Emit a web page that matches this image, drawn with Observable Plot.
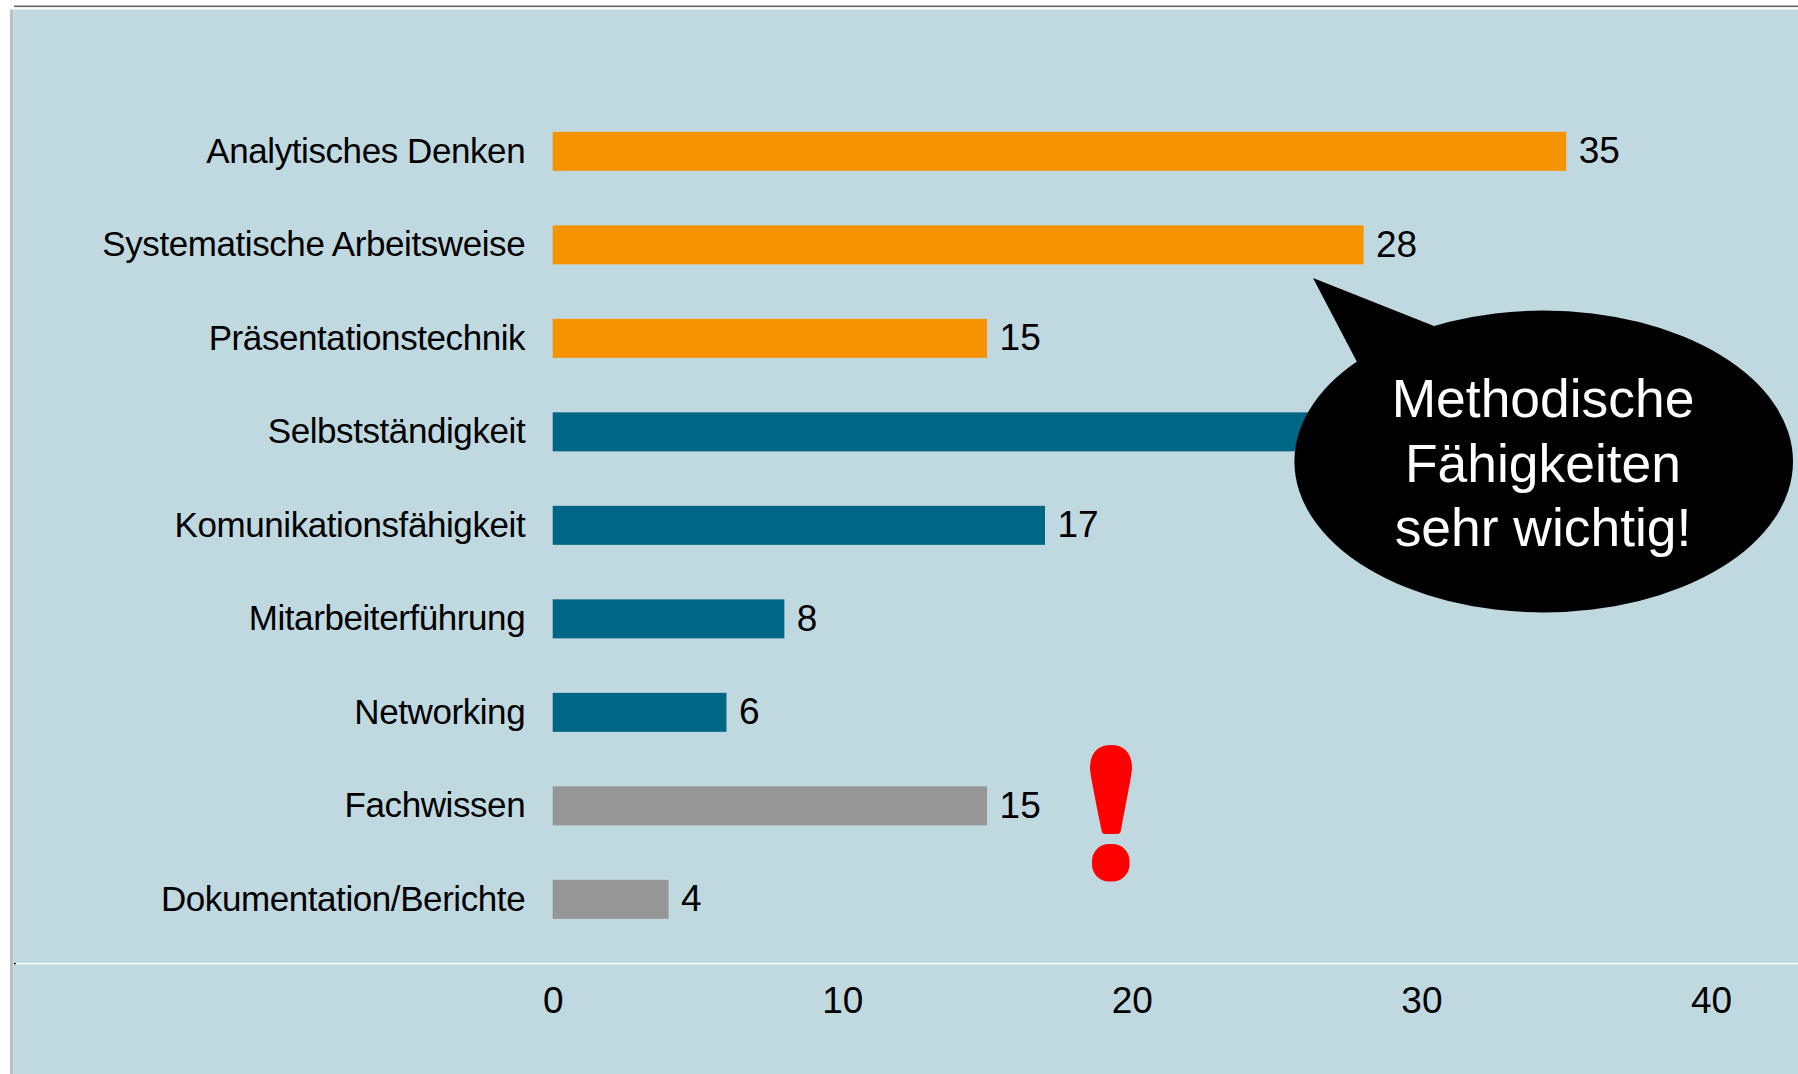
<!DOCTYPE html>
<html lang="de">
<head>
<meta charset="utf-8">
<script src="https://cdn.jsdelivr.net/npm/d3@7"></script>
<script src="https://cdn.jsdelivr.net/npm/@observablehq/plot@0.6"></script>
<style>
html,body{margin:0;padding:0;background:#fff;overflow:hidden}
svg{display:block}
g[aria-label="y-axis tick label"] text{letter-spacing:-0.42px}
</style>
</head>
<body>
<script>
const categories = ["Analytisches Denken","Systematische Arbeitsweise","Präsentationstechnik","Selbstständigkeit","Komunikationsfähigkeit","Mitarbeiterführung","Networking","Fachwissen","Dokumentation/Berichte"];
const values = [35,28,15,27,17,8,6,15,4];
const groups = ["Methodisch","Methodisch","Methodisch","Sozial","Sozial","Sozial","Sozial","Fach","Fach"];
const groupNames = ["Methodisch","Sozial","Fach"];
const groupColors = ["#f59300","#006685","#969696"];
const xTicks = [0,10,20,30,40];
const calloutLines = ["Methodische","Fähigkeiten","sehr wichtig!"];

const rows = categories.map((c,i)=>({category:c,value:values[i],group:groups[i]}));
const FONT = '"Liberation Sans", Arial, sans-serif';
const NS = "http://www.w3.org/2000/svg";
const el = (n,a,parent)=>{const e=document.createElementNS(NS,n);for(const k in a)e.setAttribute(k,a[k]);if(parent)parent.appendChild(e);return e;};

function panel(index,scales,channels,dim){
  const g=el("g",{});
  el("rect",{x:10,y:9.5,width:3.5,height:dim.height-9.5,fill:"#bfbfbf"},g);
  el("rect",{x:13.5,y:9.5,width:dim.width-13.5,height:dim.height-9.5,fill:"#c0d8e0"},g);
  el("rect",{x:14,y:5.5,width:dim.width-14,height:1.6,fill:"#666"},g);
  el("rect",{x:14,y:963,width:dim.width-14,height:1.2,fill:"#fff"},g);
  el("rect",{x:14,y:963,width:2,height:1.2,fill:"#000"},g);
  return g;
}
function callout(){
  const g=el("g",{});
  el("ellipse",{cx:1543.7,cy:461.5,rx:249.3,ry:151,fill:"#000"},g);
  el("path",{d:"M1313,278L1434,326L1357,362Z",fill:"#000"},g);
  calloutLines.forEach((t,i)=>{
    const e=el("text",{x:1543,y:417+i*64.6,"text-anchor":"middle",fill:"#fff","font-size":53.4,"font-family":FONT},g);
    e.textContent=t;
  });
  el("path",{d:"M1090,768C1090,752 1099,745 1111,745C1123,745 1132,752 1132,768C1132,772 1130,783 1121,830C1120.5,833 1119,834 1117,834L1105,834C1103,834 1102,833 1101.500,830C1092,783 1090,772 1090,768Z",fill:"#f00"},g);
  el("rect",{x:1092,y:844,width:37.500,height:37.500,rx:17,ry:17,fill:"#f00"},g);
  return g;
}

const chart = Plot.plot({
  width:1798,height:1074,
  marginLeft:552.7,marginRight:87,marginTop:104.6,marginBottom:111,
  style:{background:"transparent",fontFamily:FONT,overflow:"visible"},
  x:{domain:[0,40],range:[552.7,1711],label:null},
  y:{domain:categories,range:[104.6,946.1],paddingInner:0.583,paddingOuter:0.2915,round:false,label:null},
  color:{type:"ordinal",domain:groupNames,range:groupColors},
  marks:[
    panel,
    Plot.barX(rows,{x:"value",y:"category",fill:"group"}),
    Plot.text(rows,{x:"value",y:"category",text:d=>String(d.value),textAnchor:"start",dx:12,dy:-0.5,fontSize:37,fill:"#000"}),
    Plot.axisY({tickSize:0,tickPadding:28,fontSize:35,color:"#000",label:null,dy:-0.5}),
    Plot.axisX({ticks:xTicks,tickSize:0,tickPadding:23,fontSize:37,color:"#000",label:null,tickFormat:d=>String(d)}),
    callout
  ]
});
document.body.appendChild(chart);
</script>
</body>
</html>
